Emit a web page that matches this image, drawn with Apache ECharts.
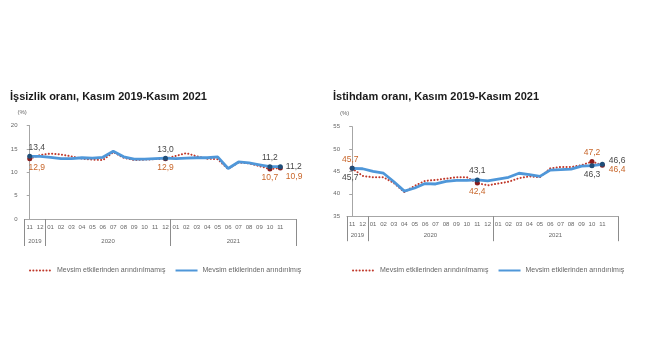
<!DOCTYPE html>
<html><head><meta charset="utf-8">
<script src="https://cdn.jsdelivr.net/npm/echarts@6/dist/echarts.min.js"></script>
<style>html,body{margin:0;padding:0;background:#fff}#c{width:650px;height:360px}</style>
</head><body><div id="c"></div>
<script>
// ---- data ----
const months = ['11','12','01','02','03','04','05','06','07','08','09','10','11','12','01','02','03','04','05','06','07','08','09','10','11',''];
const years = ['2019','2020','2021'];
const yearSpans = [[0,1],[2,13],[14,25]];
const leftTitle = 'İşsizlik oranı, Kasım 2019-Kasım 2021';
const rightTitle = 'İstihdam oranı, Kasım 2019-Kasım 2021';
const nameNSA = 'Mevsim etkilerinden arındırılmamış';
const nameSA = 'Mevsim etkilerinden arındırılmış';
const unempSA  = [13.4,13.4,13.2,12.9,12.9,13.1,13.0,13.2,14.5,13.3,12.8,12.8,12.9,13.0,12.9,13.0,13.1,13.1,13.3,10.8,12.2,12.0,11.6,11.2,11.2];
const unempNSA = [12.9,13.7,14.0,13.8,13.4,12.9,12.7,12.6,14.3,13.1,12.6,12.7,12.8,12.9,13.5,14.1,13.4,12.9,12.8,10.7,12.1,11.9,11.3,10.7,10.9];
const empSA    = [45.7,45.6,45.0,44.6,42.7,40.6,41.3,42.3,42.2,42.8,43.0,43.0,43.1,42.9,43.3,43.7,44.6,44.3,43.9,45.3,45.4,45.5,46.2,46.3,46.6];
const empNSA   = [45.7,44.0,43.7,43.7,42.4,40.4,41.8,42.9,43.1,43.4,43.7,43.7,42.4,41.9,42.3,42.7,43.5,43.9,43.7,45.7,46.0,46.0,46.4,47.2,46.4];
const unempLabelIdx = [0,13,23,24];
const empLabelIdx = [0,12,23,24];
const leftYRange = [0,20,5];
const rightYRange = [35,55,5];

// ---- styles ----
const FONT = 'Liberation Sans, Arial, sans-serif';
const BLUE = '#4f97d9', BLUE_MK = '#1f4e79';
const RED = '#c0392b', RED_MK = '#8b1c1c';
const DARK_LBL = '#474747', ORANGE_LBL = '#c8662a';
const AXIS = '#a6a6a6', TXT = '#666666';

function fmt(v){ return v.toFixed(1).replace('.', ','); }
function items(values, idxs, cfgs){
  return values.map((v,i)=>{
    const k = idxs.indexOf(i);
    if (k < 0) return {value:v, symbolSize:0};
    return {value:v, symbolSize:5, label:Object.assign({show:true, formatter:fmt(v)}, cfgs[k])};
  });
}
function lineSeries(name, values, idxs, cfgs, gi, dotted){
  return {
    name, type:'line', xAxisIndex:gi*2, yAxisIndex:gi,
    data: items(values, idxs, cfgs),
    symbol:'circle', showSymbol:true, showAllSymbol:true, smooth:false,
    z: dotted ? 2 : 3,
    lineStyle: dotted ? {color:RED, width:2, type:[0.1,3.2], cap:'round'} : {color:BLUE, width:2.8},
    itemStyle:{color: dotted ? RED_MK : BLUE_MK},
    label:{color: dotted ? ORANGE_LBL : DARK_LBL, fontSize:8.5, fontFamily:FONT, distance:2},
    emphasis:{disabled:true}, animation:false
  };
}
const sepStarts = yearSpans.map(s=>s[0]);
const yearCenters = yearSpans.map(s=>(s[0]+s[1])/2);

function xAxes(gi){
  return [{
    type:'category', gridIndex:gi, data:months, boundaryGap:true,
    axisLine:{lineStyle:{color:AXIS, width:1}},
    axisTick:{show:true, length: gi===0?27:25, interval:(idx)=>sepStarts.includes(idx), lineStyle:{color:'#8c8c8c', width:1}},
    axisLabel:{interval:0, fontSize:6, color:TXT, margin:5, fontFamily:FONT}
  },{
    type:'value', gridIndex:gi, min:-0.5, max:months.length-0.5, interval:0.5, position:'bottom',
    axisLine:{show:false}, axisTick:{show:false}, splitLine:{show:false},
    axisLabel:{fontSize:6, color:TXT, fontFamily:FONT, margin: gi===0?19:16, showMinLabel:true, showMaxLabel:true,
      formatter:(v)=>{ const k = yearCenters.findIndex(c=>Math.abs(c-v)<1e-6); return k<0?'':years[k]; }}
  }];
}
function yAxis(gi, r){
  return {
    type:'value', gridIndex:gi, min:r[0], max:r[1], interval:r[2],
    name:'(%)', nameLocation:'end', nameGap:10,
    nameTextStyle:{fontSize:6, color:TXT, fontFamily:FONT, align:'right', padding:[0,3,0,0]},
    axisLine:{show:true, lineStyle:{color:AXIS}},
    axisTick:{show:true, length:3, lineStyle:{color:AXIS}},
    splitLine:{show:false},
    axisLabel:{fontSize:6, color:TXT, margin:7, fontFamily:FONT}
  };
}

const leftNSAcfg = [{position:'bottom', offset:[7,0]},{position:'bottom'},{position:'bottom'},{position:'right', offset:[0,9], distance:3}];
const leftSAcfg  = [{position:'top', offset:[7,0]},{position:'top'},{position:'top'},{position:'right', distance:3}];
const rightNSAcfg = [{position:'top', offset:[-2,0]},{position:'bottom'},{position:'top'},{position:'right', offset:[0,4], distance:4}];
const rightSAcfg  = [{position:'bottom', offset:[-2,0]},{position:'top'},{position:'bottom'},{position:'right', offset:[0,-4], distance:4}];

const legendBase = {
  itemWidth:22, itemHeight:6, itemGap:9,
  textStyle:{fontSize:7, color:TXT, fontFamily:FONT},
  itemStyle:{color:'rgba(0,0,0,0)', borderWidth:0},
  selectedMode:false, data:[nameNSA, nameSA]
};

const option = {
  backgroundColor:'#fff',
  animation:false,
  textStyle:{fontFamily:FONT},
  title:[
    {text:leftTitle, left:5, top:86, textStyle:{fontSize:11, fontWeight:'bold', color:'#1a1a1a', fontFamily:FONT}},
    {text:rightTitle, left:328, top:86, textStyle:{fontSize:11, fontWeight:'bold', color:'#1a1a1a', fontFamily:FONT}}
  ],
  legend:[
    Object.assign({}, legendBase, {left:24, top:262}),
    Object.assign({}, legendBase, {left:347, top:262})
  ],
  grid:[
    {left:24.5, top:125.5, width:271.5, height:93.5},
    {left:347, top:126.7, width:271, height:89.5}
  ],
  xAxis:[...xAxes(0), ...xAxes(1)],
  yAxis:[yAxis(0, leftYRange), yAxis(1, rightYRange)],
  series:[
    lineSeries(nameNSA, unempNSA, unempLabelIdx, leftNSAcfg, 0, true),
    lineSeries(nameSA, unempSA, unempLabelIdx, leftSAcfg, 0, false),
    lineSeries(nameNSA, empNSA, empLabelIdx, rightNSAcfg, 1, true),
    lineSeries(nameSA, empSA, empLabelIdx, rightSAcfg, 1, false)
  ]
};
const chart = echarts.init(document.getElementById('c'));
chart.setOption(option);
</script>
</body></html>
